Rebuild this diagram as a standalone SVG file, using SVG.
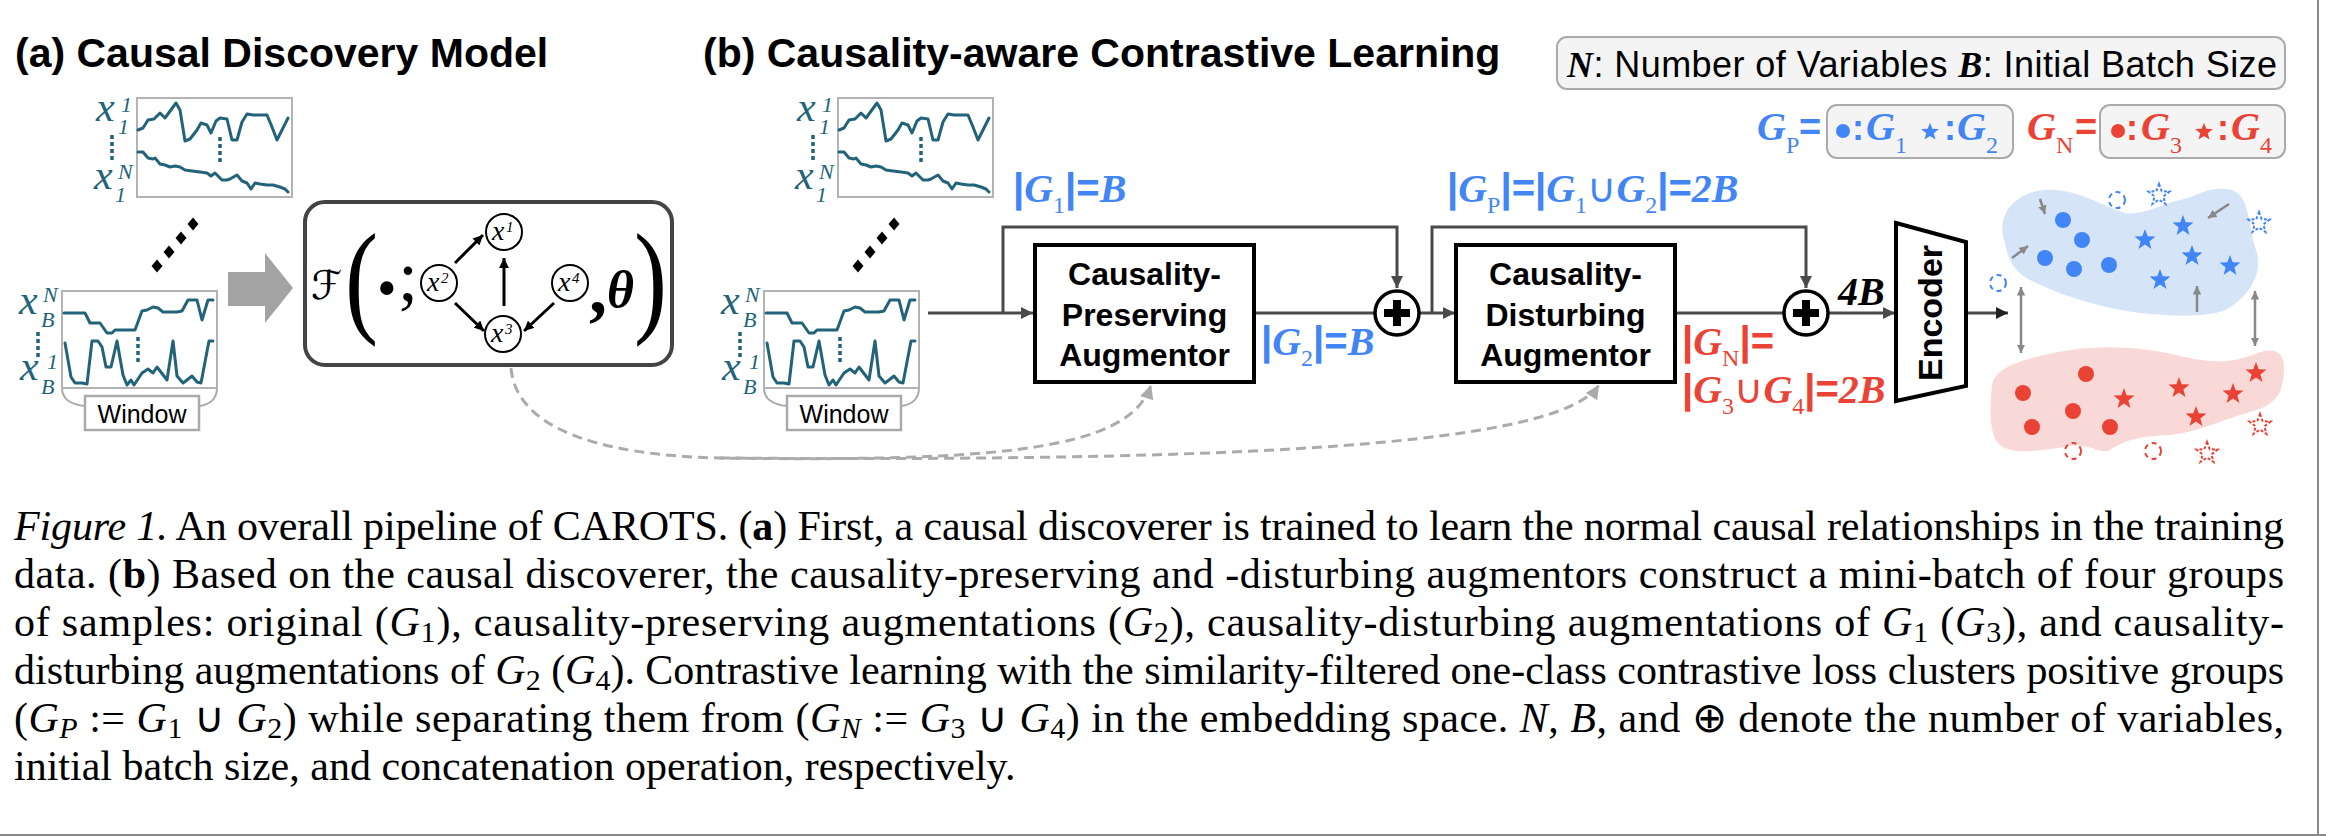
<svg xmlns="http://www.w3.org/2000/svg" width="2326" height="836" viewBox="0 0 2326 836">
<defs>
<style>
.ttl{font-family:"Liberation Sans",Arial,sans-serif;font-weight:bold;font-size:41px;fill:#000}
.frame{fill:#fff;stroke:#b3b3b3;stroke-width:2}
.ts{fill:none;stroke:#23637a;stroke-width:3;stroke-linejoin:round;stroke-linecap:round}
.dot{fill:none;stroke:#23637a;stroke-width:3.5;stroke-dasharray:4 3}
.lx{font-family:"Liberation Serif",serif;font-style:italic;fill:#23637a}
.brace{fill:none;stroke:#aaa;stroke-width:2}
.winbox{fill:#fff;stroke:#aaa;stroke-width:2.5}
.win{font-family:"Liberation Sans",Arial,sans-serif;font-size:25px;fill:#000;text-anchor:middle}
.box{fill:#fff;stroke:#000;stroke-width:4}
.aug{font-family:"Liberation Sans",Arial,sans-serif;font-weight:bold;font-size:32px;text-anchor:middle;fill:#000}
.conn{fill:none;stroke:#4a4a4a;stroke-width:3}
.dash{fill:none;stroke:#ababab;stroke-width:3;stroke-dasharray:10 6}
.m{font-family:"Liberation Serif",serif;font-weight:bold;font-style:italic;font-size:40px}
.s{font-family:"Liberation Sans",Arial,sans-serif;font-weight:bold;font-style:normal}
.u{font-family:"DejaVu Sans",sans-serif;font-weight:normal;font-style:normal}
.sb{font-family:"Liberation Serif",serif;font-weight:normal;font-style:normal;font-size:24px}
.blue{fill:#4285f4}
.red{fill:#ea4335}
.cap{font-family:"Liberation Serif","Times New Roman",serif;font-size:42px;fill:#000}
.it{font-style:italic}
.bd{font-weight:bold}
.cs{font-size:30px}
.paren{font-family:"Liberation Serif",serif;font-size:124px;fill:#000}
.gnode{fill:#fff;stroke:#000;stroke-width:2}
.gx{font-family:"Liberation Serif",serif;font-style:italic;font-size:28px;fill:#000}
.gs{font-family:"Liberation Serif",serif;font-style:italic;font-size:15px;fill:#000}
.garr{fill:none;stroke:#000;stroke-width:3}
.small{fill:none;stroke:#888;stroke-width:2.5}
.legend{fill:#f4f4f4;stroke:#aaa;stroke-width:2}
.plus{fill:#fff;stroke:#000;stroke-width:3.5}
.dstar{fill:#fff;stroke-width:2;stroke-dasharray:3 2}
</style>
<marker id="ah" viewBox="0 0 10 10" refX="10" refY="5" markerWidth="4" markerHeight="4.6" orient="auto" markerUnits="strokeWidth"><path d="M0,0L10,5L0,10z" fill="#4a4a4a"/></marker>
<marker id="ahk" viewBox="0 0 10 10" refX="10" refY="5" markerWidth="4" markerHeight="4.6" orient="auto" markerUnits="strokeWidth"><path d="M0,0L10,5L0,10z" fill="#222"/></marker>
<marker id="ahb" viewBox="0 0 10 10" refX="10" refY="5" markerWidth="3.3" markerHeight="3.3" orient="auto" markerUnits="strokeWidth"><path d="M0,0L10,5L0,10z" fill="#000"/></marker>
<marker id="ahg" viewBox="0 0 10 10" refX="10" refY="5" markerWidth="5" markerHeight="4.6" orient="auto" markerUnits="strokeWidth"><path d="M0,0L10,5L0,10z" fill="#ababab"/></marker>
<marker id="ahs" viewBox="0 0 10 10" refX="10" refY="5" markerWidth="3.4" markerHeight="3.4" orient="auto-start-reverse" markerUnits="strokeWidth"><path d="M0,0L10,5L0,10z" fill="#888"/></marker>
<path id="star" d="M0,-11L2.7,-3.72L10.46,-3.4L4.37,1.42L6.47,8.9L0,4.6L-6.47,8.9L-4.37,1.42L-10.46,-3.4L-2.7,-3.72Z"/>
<path id="dia" d="M0,-6.5L5.5,0L0,6.5L-5.5,0Z"/>
</defs>

<rect width="2326" height="836" fill="#fff"/>

<g id="titles">
<text class="ttl" x="15" y="67">(a) Causal Discovery Model</text>
<text class="ttl" x="703" y="67">(b) Causality-aware Contrastive Learning</text>
</g>

<!-- (a) time series -->
<g id="a-window-top">
<rect class="frame" x="137" y="98" width="155" height="99"/>
<polyline class="ts" points="138,130 143,128 148,120 154,119 160,113 165,118 176,103 180,110 185,141 190,139 197,130 201,123 207,125 211,133 216,121 220,118 227,119 232,140 237,140 242,122 247,114 253,115 258,115 267,115 272,127 277,140 283,128 288,118"/>
<polyline class="ts" points="138,152 143,152 148,158 153,159 155,158 160,164 165,165 170,167 175,166 180,167 185,170 192,171 200,172 207,173 211,176 215,173 222,180 227,180 230,179 237,175 242,181 247,183 251,189 255,183 260,184 267,185 273,185 280,187 285,189 288,192"/>
<line class="dot" x1="220" y1="137" x2="220" y2="163"/>
<text class="lx" x="96" y="121" font-size="42">x</text>
<text class="lx" x="121" y="112" font-size="22">1</text>
<text class="lx" x="118" y="134" font-size="22">1</text>
<line class="dot" x1="112" y1="135" x2="112" y2="160"/>
<text class="lx" x="94" y="189" font-size="42">x</text>
<text class="lx" x="118" y="179" font-size="22">N</text>
<text class="lx" x="115" y="202" font-size="22">1</text>
</g>
<g id="a-dots" fill="#000">
<use href="#dia" x="157" y="266"/><use href="#dia" x="169" y="252"/><use href="#dia" x="181" y="238"/><use href="#dia" x="193" y="224"/>
</g>
<g id="a-window-bottom">
<rect class="frame" x="62" y="291" width="155" height="97"/>
<polyline class="ts" points="64,313 85,313 90,323 100,323 107,333 112,333 115,330 135,330 142,311 147,310 153,307 158,308 163,312 177,312 182,311 188,300 197,300 202,320 208,300 213,300"/>
<polyline class="ts" points="65,343 71,377 75,383 82,383 87,384 92,341 98,341 102,347 106,367 111,367 117,341 123,375 127,385 131,380 134,385 142,373 148,369 153,373 157,367 167,380 173,341 177,376 183,383 187,380 192,376 197,382 201,383 209,341 213,341"/>
<line class="dot" x1="138" y1="337" x2="138" y2="364"/>
<text class="lx" x="19" y="314" font-size="42">x</text>
<text class="lx" x="43" y="302" font-size="22">N</text>
<text class="lx" x="41" y="327" font-size="22">B</text>
<line class="dot" x1="38" y1="332" x2="38" y2="357"/>
<text class="lx" x="20" y="380" font-size="42">x</text>
<text class="lx" x="47" y="369" font-size="22">1</text>
<text class="lx" x="41" y="394" font-size="22">B</text>
<path class="brace" d="M62,389 Q63,404 85,406 M217,389 Q216,404 199,406"/>
<rect class="winbox" x="85" y="396" width="114" height="34"/>
<text class="win" x="142" y="423">Window</text>
</g>

<g id="block-arrow">
<polygon points="228,272 265,272 265,253 293,288 265,323 265,306 228,306" fill="#a3a3a3"/>
</g>

<g id="causal-model">
<rect x="305" y="202" width="367" height="163" rx="20" fill="#fff" stroke="#444" stroke-width="4"/>
<text x="311" y="299" font-family="DejaVu Serif,DejaVu Sans,serif" font-size="40" fill="#000">ℱ</text>
<text class="paren" transform="translate(345,320) scale(0.8,1)">(</text>
<text x="377" y="307" font-family="Liberation Serif,serif" font-size="56">•</text>
<text x="398" y="300" font-family="Liberation Serif,serif" font-size="72">;</text>
<text x="589" y="313" font-family="Liberation Serif,serif" font-weight="bold" font-size="72">,</text>
<text x="607" y="307" font-family="Liberation Serif,serif" font-weight="bold" font-style="italic" font-size="52">θ</text>
<text class="paren" transform="translate(634,320) scale(0.8,1)">)</text>
<g id="node-x1"><circle class="gnode" cx="504" cy="232" r="18"/><text class="gx" x="492" y="240">x</text><text class="gs" x="506" y="232">1</text></g>
<g id="node-x2"><circle class="gnode" cx="439" cy="283" r="18"/><text class="gx" x="427" y="291">x</text><text class="gs" x="441" y="283">2</text></g>
<g id="node-x3"><circle class="gnode" cx="503" cy="334" r="18"/><text class="gx" x="491" y="342">x</text><text class="gs" x="505" y="334">3</text></g>
<g id="node-x4"><circle class="gnode" cx="570" cy="283" r="18"/><text class="gx" x="558" y="291">x</text><text class="gs" x="572" y="283">4</text></g>
<g id="graph-edges">
<line class="garr" x1="455" y1="263" x2="483" y2="235" marker-end="url(#ahb)"/>
<line class="garr" x1="504" y1="306" x2="504" y2="258" marker-end="url(#ahb)"/>
<line class="garr" x1="455" y1="303" x2="484" y2="331" marker-end="url(#ahb)"/>
<line class="garr" x1="554" y1="303" x2="524" y2="331" marker-end="url(#ahb)"/>
</g>
</g>

<!-- (b) time series -->
<g id="b-window-top" transform="translate(701,0)">
<rect class="frame" x="137" y="98" width="155" height="99"/>
<polyline class="ts" points="138,130 143,128 148,120 154,119 160,113 165,118 176,103 180,110 185,141 190,139 197,130 201,123 207,125 211,133 216,121 220,118 227,119 232,140 237,140 242,122 247,114 253,115 258,115 267,115 272,127 277,140 283,128 288,118"/>
<polyline class="ts" points="138,152 143,152 148,158 153,159 155,158 160,164 165,165 170,167 175,166 180,167 185,170 192,171 200,172 207,173 211,176 215,173 222,180 227,180 230,179 237,175 242,181 247,183 251,189 255,183 260,184 267,185 273,185 280,187 285,189 288,192"/>
<line class="dot" x1="220" y1="137" x2="220" y2="163"/>
<text class="lx" x="96" y="121" font-size="42">x</text>
<text class="lx" x="121" y="112" font-size="22">1</text>
<text class="lx" x="118" y="134" font-size="22">1</text>
<line class="dot" x1="112" y1="135" x2="112" y2="160"/>
<text class="lx" x="94" y="189" font-size="42">x</text>
<text class="lx" x="118" y="179" font-size="22">N</text>
<text class="lx" x="115" y="202" font-size="22">1</text>
</g>
<g id="b-dots" fill="#000" transform="translate(701,0)">
<use href="#dia" x="157" y="266"/><use href="#dia" x="169" y="252"/><use href="#dia" x="181" y="238"/><use href="#dia" x="193" y="224"/>
</g>
<g id="b-window-bottom" transform="translate(702,0)">
<rect class="frame" x="62" y="291" width="155" height="97"/>
<polyline class="ts" points="64,313 85,313 90,323 100,323 107,333 112,333 115,330 135,330 142,311 147,310 153,307 158,308 163,312 177,312 182,311 188,300 197,300 202,320 208,300 213,300"/>
<polyline class="ts" points="65,343 71,377 75,383 82,383 87,384 92,341 98,341 102,347 106,367 111,367 117,341 123,375 127,385 131,380 134,385 142,373 148,369 153,373 157,367 167,380 173,341 177,376 183,383 187,380 192,376 197,382 201,383 209,341 213,341"/>
<line class="dot" x1="138" y1="337" x2="138" y2="364"/>
<text class="lx" x="19" y="314" font-size="42">x</text>
<text class="lx" x="43" y="302" font-size="22">N</text>
<text class="lx" x="41" y="327" font-size="22">B</text>
<line class="dot" x1="38" y1="332" x2="38" y2="357"/>
<text class="lx" x="20" y="380" font-size="42">x</text>
<text class="lx" x="47" y="369" font-size="22">1</text>
<text class="lx" x="41" y="394" font-size="22">B</text>
<path class="brace" d="M62,389 Q63,404 85,406 M217,389 Q216,404 199,406"/>
<rect class="winbox" x="85" y="396" width="114" height="34"/>
<text class="win" x="142" y="423">Window</text>
</g>

<g id="connectors">
<path class="conn" d="M928,313H1033" marker-end="url(#ah)"/>
<path class="conn" d="M1003,313V227H1397V288" marker-end="url(#ah)"/>
<path class="conn" d="M1254,313H1376"/>
<path class="conn" d="M1419,313H1455" marker-end="url(#ah)"/>
<path class="conn" d="M1432,313V227H1806V288" marker-end="url(#ah)"/>
<path class="conn" d="M1675,313H1785"/>
<path class="conn" d="M1828,313H1895" marker-end="url(#ah)"/>
<path class="conn" d="M1966,313H2008" stroke="#222" marker-end="url(#ahk)"/>
<path class="dash" d="M511,368C516,425 590,455 720,458C1000,462 1130,450 1151,385" marker-end="url(#ahg)"/>
<path class="dash" d="M720,458C1250,462 1560,445 1599,385" marker-end="url(#ahg)"/>
</g>

<g id="preserving-augmentor">
<rect class="box" x="1035" y="245" width="219" height="137"/>
<text class="aug" x="1144.5" y="285">Causality-</text>
<text class="aug" x="1144.5" y="326">Preserving</text>
<text class="aug" x="1144.5" y="366">Augmentor</text>
</g>
<g id="concat-1">
<circle class="plus" cx="1397" cy="313" r="22"/>
<rect x="1384" y="309" width="26" height="8" fill="#000"/><rect x="1393" y="300" width="8" height="26" fill="#000"/>
</g>
<g id="disturbing-augmentor">
<rect class="box" x="1456" y="245" width="219" height="137"/>
<text class="aug" x="1565.5" y="285">Causality-</text>
<text class="aug" x="1565.5" y="326">Disturbing</text>
<text class="aug" x="1565.5" y="366">Augmentor</text>
</g>
<g id="concat-2">
<circle class="plus" cx="1806" cy="313" r="22"/>
<rect x="1793" y="309" width="26" height="8" fill="#000"/><rect x="1802" y="300" width="8" height="26" fill="#000"/>
</g>
<g id="encoder">
<polygon points="1896,223 1966,242 1966,386 1896,401" fill="#fff" stroke="#000" stroke-width="4" stroke-linejoin="miter"/>
<text class="aug" transform="translate(1942,313) rotate(-90)" style="font-size:34px">Encoder</text>
</g>

<g id="size-labels">
<text class="m blue" x="1013" y="202"><tspan class="s">|</tspan>G<tspan class="sb" dy="11">1</tspan><tspan class="s" dy="-11">|=</tspan>B</text>
<text class="m blue" x="1261" y="355"><tspan class="s">|</tspan>G<tspan class="sb" dy="11">2</tspan><tspan class="s" dy="-11">|=</tspan>B</text>
<text class="m blue" x="1447" y="202"><tspan class="s">|</tspan>G<tspan class="sb" dy="11">P</tspan><tspan class="s" dy="-11">|=|</tspan>G<tspan class="sb" dy="11">1</tspan><tspan class="u" dy="-11">∪</tspan>G<tspan class="sb" dy="11">2</tspan><tspan class="s" dy="-11">|=</tspan>2B</text>
<text class="m red" x="1682" y="355"><tspan class="s">|</tspan>G<tspan class="sb" dy="11">N</tspan><tspan class="s" dy="-11">|=</tspan></text>
<text class="m red" x="1682" y="403"><tspan class="s">|</tspan>G<tspan class="sb" dy="11">3</tspan><tspan class="u" dy="-11">∪</tspan>G<tspan class="sb" dy="11">4</tspan><tspan class="s" dy="-11">|=</tspan>2B</text>
<text class="m" x="1838" y="305" fill="#000">4B</text>
</g>

<g id="legend-vars">
<rect class="legend" x="1557" y="37" width="728" height="52" rx="10"/>
<text x="1567" y="77" font-family="Liberation Sans,Arial,sans-serif" font-size="36" textLength="710" lengthAdjust="spacing"><tspan font-family="Liberation Serif,serif" font-weight="bold" font-style="italic">N</tspan>: Number of Variables <tspan font-family="Liberation Serif,serif" font-weight="bold" font-style="italic">B</tspan>: Initial Batch Size</text>
</g>

<g id="legend-positive">
<text class="m blue" x="1757" y="140">G<tspan class="sb" dy="13">P</tspan></text>
<text class="s blue" x="1799" y="140" style="font-size:38px">=</text>
<rect class="legend" x="1827" y="105" width="186" height="53" rx="10"/>
<circle cx="1843" cy="131" r="7" fill="#4285f4"/>
<text class="s blue" x="1852" y="140" style="font-size:36px">:</text>
<text class="m blue" x="1866" y="140">G<tspan class="sb" dy="13">1</tspan></text>
<use href="#star" x="0" y="0" transform="translate(1930,132) scale(0.85)" fill="#4285f4"/>
<text class="s blue" x="1944" y="140" style="font-size:36px">:</text>
<text class="m blue" x="1957" y="140">G<tspan class="sb" dy="13">2</tspan></text>
</g>
<g id="legend-negative">
<text class="m red" x="2027" y="140">G<tspan class="sb" dy="13">N</tspan></text>
<text class="s red" x="2075" y="140" style="font-size:38px">=</text>
<rect class="legend" x="2100" y="105" width="185" height="53" rx="10"/>
<circle cx="2118" cy="131" r="7" fill="#ea4335"/>
<text class="s red" x="2126" y="140" style="font-size:36px">:</text>
<text class="m red" x="2141" y="140">G<tspan class="sb" dy="13">3</tspan></text>
<use href="#star" x="0" y="0" transform="translate(2204,132) scale(0.85)" fill="#ea4335"/>
<text class="s red" x="2217" y="140" style="font-size:36px">:</text>
<text class="m red" x="2231" y="140">G<tspan class="sb" dy="13">4</tspan></text>
</g>

<g id="embedding-positive">
<path d="M2005,243C1995,215 2015,192 2045,190C2075,188 2100,205 2125,213C2140,216 2160,205 2180,200C2200,195 2210,185 2232,190C2250,196 2248,225 2256,250C2265,275 2245,300 2225,310C2205,318 2170,316 2140,313C2100,308 2060,295 2030,280C2012,270 2008,258 2005,243Z" fill="#d6e4f8"/>
<g fill="#4285f4">
<circle cx="2063" cy="220" r="8"/><circle cx="2082" cy="240" r="8"/><circle cx="2045" cy="258" r="8"/><circle cx="2074" cy="269" r="8"/><circle cx="2109" cy="265" r="8"/>
<use href="#star" x="2145" y="240"/><use href="#star" x="2183" y="226"/><use href="#star" x="2192" y="256"/><use href="#star" x="2230" y="266"/><use href="#star" x="2160" y="280"/>
</g>
<g stroke="#4285f4">
<circle cx="2117" cy="200" r="8" fill="none" stroke-width="2" stroke-dasharray="5 4"/>
<circle cx="1998" cy="283" r="8" fill="none" stroke-width="2" stroke-dasharray="5 4"/>
<use href="#star" class="dstar" x="2159" y="195"/>
<use href="#star" class="dstar" x="2259" y="223"/>
</g>
<path class="small" d="M2040,199L2045,214" marker-end="url(#ahs)"/>
<path class="small" d="M2229,204L2208,218" marker-end="url(#ahs)"/>
<path class="small" d="M2012,258L2028,246" marker-end="url(#ahs)"/>
<path class="small" d="M2197,312L2197,286" marker-end="url(#ahs)"/>
</g>
<g id="embedding-negative">
<path d="M1992,385C1995,365 2030,357 2070,350C2110,344 2150,348 2185,357C2215,364 2235,362 2255,354C2272,347 2285,350 2284,370C2283,395 2275,405 2250,412C2220,420 2200,432 2170,435C2140,436 2125,440 2110,450C2100,455 2090,443 2070,446C2045,450 2015,456 2000,445C1988,435 1990,405 1992,385Z" fill="#f9d9d7"/>
<g fill="#ea4335">
<circle cx="2086" cy="374" r="8"/><circle cx="2023" cy="393" r="8"/><circle cx="2073" cy="411" r="8"/><circle cx="2032" cy="427" r="8"/><circle cx="2110" cy="427" r="8"/>
<use href="#star" x="2124" y="399"/><use href="#star" x="2179" y="388"/><use href="#star" x="2233" y="394"/><use href="#star" x="2256" y="373"/><use href="#star" x="2196" y="417"/>
</g>
<g stroke="#ea4335">
<circle cx="2073" cy="451" r="8" fill="none" stroke-width="2" stroke-dasharray="5 4"/>
<circle cx="2153" cy="451" r="8" fill="none" stroke-width="2" stroke-dasharray="5 4"/>
<use href="#star" class="dstar" x="2260" y="425"/>
<use href="#star" class="dstar" x="2207" y="453"/>
</g>
</g>
<g id="separation-arrows">
<path class="small" d="M2021,287V353" marker-start="url(#ahs)" marker-end="url(#ahs)"/>
<path class="small" d="M2255,291V346" marker-start="url(#ahs)" marker-end="url(#ahs)"/>
</g>

<g id="caption">
<text class="cap" x="14" y="540" textLength="2270" lengthAdjust="spacing"><tspan class="it">Figure 1.</tspan> An overall pipeline of CAROTS. (<tspan class="bd">a</tspan>) First, a causal discoverer is trained to learn the normal causal relationships in the training</text>
<text class="cap" x="14" y="588" textLength="2270" lengthAdjust="spacing">data. (<tspan class="bd">b</tspan>) Based on the causal discoverer, the causality-preserving and -disturbing augmentors construct a mini-batch of four groups</text>
<text class="cap" x="14" y="636" textLength="2270" lengthAdjust="spacing">of samples: original (<tspan class="it">G</tspan><tspan class="cs" dy="6">1</tspan><tspan dy="-6">), causality-preserving augmentations (</tspan><tspan class="it">G</tspan><tspan class="cs" dy="6">2</tspan><tspan dy="-6">), causality-disturbing augmentations of </tspan><tspan class="it">G</tspan><tspan class="cs" dy="6">1</tspan><tspan dy="-6"> (</tspan><tspan class="it">G</tspan><tspan class="cs" dy="6">3</tspan><tspan dy="-6">), and causality-</tspan></text>
<text class="cap" x="14" y="684" textLength="2270" lengthAdjust="spacing">disturbing augmentations of <tspan class="it">G</tspan><tspan class="cs" dy="6">2</tspan><tspan dy="-6"> (</tspan><tspan class="it">G</tspan><tspan class="cs" dy="6">4</tspan><tspan dy="-6">). Contrastive learning with the similarity-filtered one-class contrastive loss clusters positive groups</tspan></text>
<text class="cap" x="14" y="732" textLength="2270" lengthAdjust="spacing">(<tspan class="it">G</tspan><tspan class="it cs" dy="6">P</tspan><tspan dy="-6"> := </tspan><tspan class="it">G</tspan><tspan class="cs" dy="6">1</tspan><tspan dy="-6"> ∪ </tspan><tspan class="it">G</tspan><tspan class="cs" dy="6">2</tspan><tspan dy="-6">) while separating them from (</tspan><tspan class="it">G</tspan><tspan class="it cs" dy="6">N</tspan><tspan dy="-6"> := </tspan><tspan class="it">G</tspan><tspan class="cs" dy="6">3</tspan><tspan dy="-6"> ∪ </tspan><tspan class="it">G</tspan><tspan class="cs" dy="6">4</tspan><tspan dy="-6">) in the embedding space. </tspan><tspan class="it">N</tspan>, <tspan class="it">B</tspan>, and ⊕ denote the number of variables,</text>
<text class="cap" x="14" y="780">initial batch size, and concatenation operation, respectively.</text>
</g>

<g id="border">
<line x1="2318" y1="0" x2="2318" y2="836" stroke="#8a8a8a" stroke-width="2"/>
<line x1="0" y1="835" x2="2326" y2="835" stroke="#8a8a8a" stroke-width="2"/>
</g>
</svg>
